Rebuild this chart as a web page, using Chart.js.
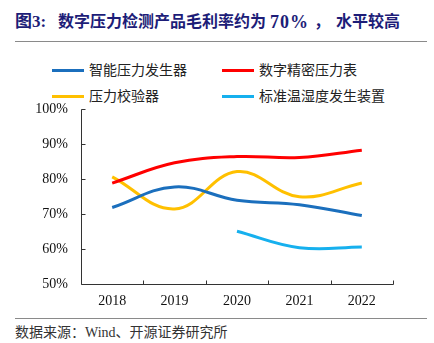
<!DOCTYPE html>
<html><head><meta charset="utf-8">
<script src="https://cdn.jsdelivr.net/npm/chart.js@4.4.0/dist/chart.umd.min.js"></script>
<style>
html,body{margin:0;padding:0;background:#fff;width:434px;height:343px;overflow:hidden;position:relative;}
.t{position:absolute;top:11px;font-family:"Liberation Serif","Noto Sans CJK SC";font-weight:bold;font-size:16px;color:#1d1d78;white-space:nowrap;line-height:22px;}
.hr{position:absolute;left:15px;width:412px;height:1px;background:#8a8a8a;}
#src{position:absolute;left:15px;top:321px;font-family:"Liberation Serif","Noto Sans CJK SC";font-size:14px;color:#333;white-space:nowrap;}
.lg{position:absolute;font-family:"Noto Sans CJK SC";font-size:14px;color:#222;white-space:nowrap;line-height:16px;}
.lg span{display:inline-block;width:32px;height:3px;vertical-align:middle;margin-right:5px;position:relative;top:-1px;}
#wrap{position:absolute;left:0;top:88px;width:434px;height:227px;}
</style></head><body>
<div class="t" style="left:15px;font-size:17px">图3:</div>
<div class="t" style="left:58px">数字压力检测产品毛利率约为</div>
<div class="t" style="left:270px;font-size:18px;letter-spacing:1px">70%</div>
<div class="t" style="left:314px">，</div>
<div class="t" style="left:336px">水平较高</div>
<div class="hr" style="top:41px"></div>
<div id="legend"></div>
<div id="wrap"><canvas id="c"></canvas></div>
<div class="hr" style="top:318px"></div>
<div id="src">数据来源：Wind、开源证券研究所</div>
<script>
const categories = ['2018','2019','2020','2021','2022'];
const seriesNames = ['智能压力发生器','数字精密压力表','压力校验器','标准温湿度发生装置'];
const seriesColors = ['#1b6fbd','#ff0000','#ffc000','#16b0ee'];
const generatorValues = [71.9, 77.8, 74.0, 72.7, 69.6];
const gaugeValues = [78.9, 84.7, 86.5, 86.2, 88.3];
const calibratorValues = [80.7, 71.5, 82.2, 75.0, 78.9];
const humidityValues = [null, null, 65.1, 60.4, 60.6];
const yTicks = [50, 60, 70, 80, 90, 100];

const allValues = [generatorValues, gaugeValues, calibratorValues, humidityValues];

// HTML legend (2 x 2)
const legendPos = [[52,61],[222,61],[52,87],[222,87]];
const lg = document.getElementById('legend');
seriesNames.forEach((n,i)=>{
  const d=document.createElement('div');
  d.className='lg';
  d.style.left=legendPos[i][0]+'px';
  d.style.top=legendPos[i][1]+'px';
  d.innerHTML='<span style="background:'+seriesColors[i]+'"></span>'+n;
  lg.appendChild(d);
});

const axisPlugin = {
  id:'axisPlugin',
  afterDraw(chart){
    const ctx=chart.ctx, ca=chart.chartArea;
    const xs=chart.scales.x, ys=chart.scales.y;
    ctx.save();
    ctx.strokeStyle='#333';
    ctx.lineWidth=1;
    ctx.beginPath();
    const lx=Math.round(ca.left)+0.5, by=Math.round(ca.bottom)+0.5;
    ctx.moveTo(lx, ys.getPixelForValue(yTicks[yTicks.length-1]));
    ctx.lineTo(lx, by);
    ctx.lineTo(Math.round(ca.right)+0.5, by);
    yTicks.forEach(v=>{
      const y=Math.round(ys.getPixelForValue(v))+0.5;
      ctx.moveTo(lx,y); ctx.lineTo(lx+4,y);
    });
    for(let i=0;i<categories.length;i++){
      let x;
      if(i<categories.length-1) x=(xs.getPixelForValue(i)+xs.getPixelForValue(i+1))/2;
      else x=ca.right;
      x=Math.round(x)+0.5;
      ctx.moveTo(x,by); ctx.lineTo(x,by-4);
    }
    ctx.stroke();
    ctx.restore();
  }
};

new Chart(document.getElementById('c'),{
  type:'line',
  data:{
    labels:categories,
    datasets:allValues.map((vals,i)=>({
      label:seriesNames[i],
      data:vals,
      borderColor:seriesColors[i],
      backgroundColor:seriesColors[i],
      borderWidth:3,
      pointRadius:0,
      tension:0.4,
      fill:false,
      spanGaps:false
    }))
  },
  options:{
    responsive:true,
    maintainAspectRatio:false,
    animation:false,
    layout:{padding:{top:8,right:41,left:0,bottom:0}},
    plugins:{legend:{display:false},tooltip:{enabled:false}},
    scales:{
      x:{
        offset:true,
        grid:{display:false,drawTicks:false},
        border:{display:false},
        ticks:{padding:9,color:'#111',font:{family:'Liberation Serif',size:14},maxRotation:0},
        afterFit(s){s.height=31;}
      },
      y:{
        min:50,max:100,
        grid:{display:false,drawTicks:false},
        border:{display:false},
        afterBuildTicks(s){s.ticks=yTicks.map(v=>({value:v}));},
        ticks:{padding:13,color:'#111',font:{family:'Liberation Serif',size:14},callback:v=>v+'%'},
        afterFit(s){s.width=81;}
      }
    }
  },
  plugins:[axisPlugin]
});
</script>
</body></html>
